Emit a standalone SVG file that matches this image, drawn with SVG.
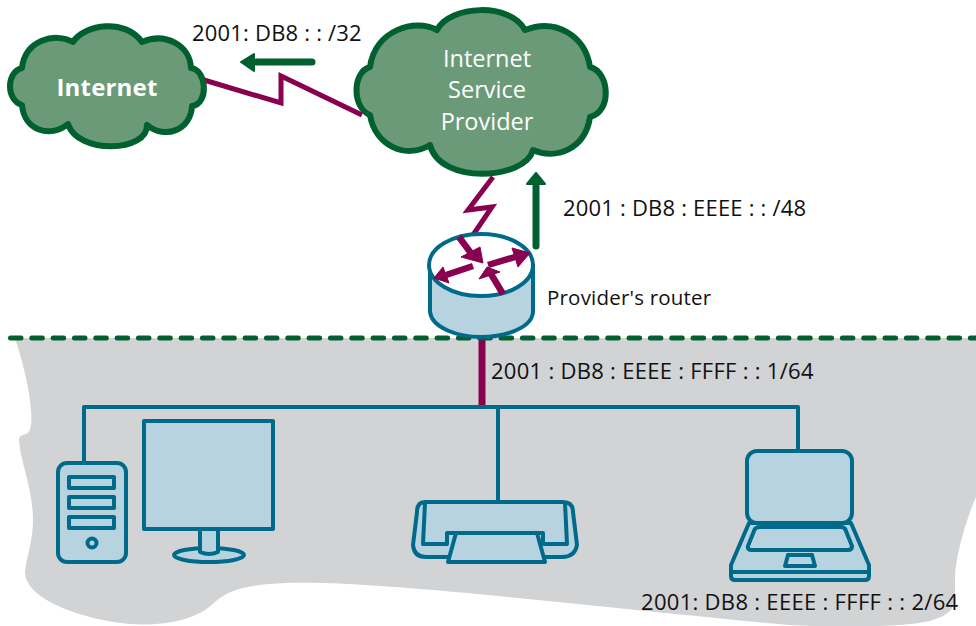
<svg xmlns="http://www.w3.org/2000/svg" width="976" height="626" viewBox="0 0 976 626">
<defs><style>
text{font-family:"Open Sans","Noto Sans","Liberation Sans",sans-serif;font-size:22px;fill:#111;letter-spacing:.2px}
.cloud{fill:#6a9a78;stroke:#00602f;stroke-width:6;stroke-linejoin:round}
text.ct{fill:#fff;font-size:23.500px;text-anchor:middle;letter-spacing:0}
.zig{fill:none;stroke:#8a0050;stroke-width:5}
.dev{fill:#b7d3df;stroke:#006a8a;stroke-width:4;stroke-linejoin:round}
.wire{fill:none;stroke:#006a8a;stroke-width:4;stroke-linejoin:round}
.ga{fill:none;stroke:#00602f;stroke-width:7;stroke-linecap:round}
.gh{fill:#00602f;stroke:#00602f;stroke-width:2;stroke-linejoin:round}
.pa{stroke:#8a0050;stroke-width:6.500;fill:none}
.ph{fill:#8a0050;stroke:#8a0050;stroke-width:1;stroke-linejoin:round}
</style></defs>
<path id="lan-area" fill="#d1d3d4" d="M15 338H976V497C968 515 955 555 955 580C955 595 956 605 950 611C940 620 925 623 900 625C870 627 830 627 790 625C720 619 600 606 488 595C400 587 320 580 270 584C240 586 225 593 215 602C195 622 160 626 130 624C85 620 25 600 25 572C27 555 33 540 33 520C33 490 20 460 19 440C19 436 22 435 26 434C31 432 32 425 31 410C29 385 22 360 15 338Z"/>
<g id="connectors">
<path class="zig" d="M204 80L281 103V76L362 115"/>
<path class="zig" d="M493 177L468 210L492 207L473 235"/>
<path d="M482 338V406" stroke="#8a0050" stroke-width="7" fill="none"/>
<path class="wire" d="M84 463V407H798V450M498 407V501"/>
<path class="ga" d="M312 62H256"/><path class="gh" d="M241 62L254 54V71Z"/>
<path class="ga" d="M536 246V186"/><path class="gh" d="M536 173L527 184H545Z"/>
<path d="M10.500 338H976" fill="none" stroke="#00602f" stroke-width="5" stroke-dasharray="10.500 10.830" stroke-linecap="round"/>
</g>
<g id="internet"><path class="cloud" d="M73 42C85 24 125 18 142 42C165 32 190 45 191 68C207 70 209 104 192 106C191 130 165 140 147 125C148 152 78 155 68 124C50 139 24 130 22 105C6 100 6 72 22 68C25 40 55 32 73 42Z"/><text class="ct" x="107" y="96" style="font-weight:700;font-size:24px;letter-spacing:.2px">Internet</text></g>
<g id="isp"><path class="cloud" d="M437 30C450 5 510 2 525 30C555 18 585 35 590 67C610 72 612 112 590 117C585 150 555 160 533 150C525 180 440 185 430 145C405 160 375 145 370 115C352 108 352 72 370 67C375 30 415 18 437 30Z"/><text class="ct" x="487" y="67">Internet</text><text class="ct" x="487" y="98">Service</text><text class="ct" x="487" y="130">Provider</text></g>
<g id="router">
<path class="dev" d="M430 265V312C432 328 458 337 481 337C505 337 532 328 533 312V265Z"/>
<ellipse cx="481" cy="265" rx="52" ry="31" fill="#fff" stroke="#006a8a" stroke-width="4"/>
<path class="pa" d="M459 237L473 256"/><path class="ph" d="M483 263L461 257L480 247Z"/>
<path class="pa" d="M488 265L515 257"/><path class="ph" d="M530 253L512 248L518 267Z"/>
<path class="pa" d="M473 266L446 275"/><path class="ph" d="M434 278L443 267L449 283Z"/>
<path class="pa" d="M503 294L491 274"/><path class="ph" d="M487 267L479 279L500 272Z"/>
</g>
<g id="pc"><rect class="dev" x="58" y="463" width="68" height="99" rx="9"/><rect class="dev" x="69" y="477" width="45" height="11"/><rect class="dev" x="69" y="497" width="45" height="11"/><rect class="dev" x="69" y="517" width="45" height="11"/><circle class="dev" cx="92" cy="543" r="4.500"/>
<ellipse class="dev" cx="209" cy="555" rx="35" ry="7"/><path class="dev" d="M200 525V552Q209 556 218 552V525Z"/><rect class="dev" x="144" y="421" width="129" height="108"/></g>
<g id="printer"><path class="dev" d="M425 502H563Q573 502 573 512L577 545Q575 557 562 557H426Q414 557 413 545L417 512Q417 502 425 502Z"/><path class="wire" d="M425 503L423 544H447V533H543V544H567L565 503"/><path class="dev" d="M456 533H537L545 562H448Z"/></g>
<g id="laptop"><path class="dev" d="M749 523L731 565V576Q731 580 735 580H865Q869 580 869 576V565L851 523Z"/><path class="wire" d="M731 572H869"/><rect class="dev" x="747" y="451" width="105" height="72" rx="10"/><path class="dev" d="M760 527H841Q845 527 846 531L852 546Q852 550 848 550H752Q747 550 748 546L754 531Q755 527 760 527Z"/><path class="dev" d="M788 555H812L815 566H785Z"/></g>
<g id="labels">
<text x="192" y="41">2001: DB8 : : /32</text>
<text x="563" y="216">2001 : DB8 : EEEE : : /48</text>
<text x="547" y="305" style="font-size:20.500px">Provider's router</text>
<text x="491" y="379" style="letter-spacing:.28px">2001 : DB8 : EEEE : FFFF : : 1/64</text>
<text x="641" y="610" style="letter-spacing:.3px">2001: DB8 : EEEE : FFFF : : 2/64</text>
</g>
</svg>
